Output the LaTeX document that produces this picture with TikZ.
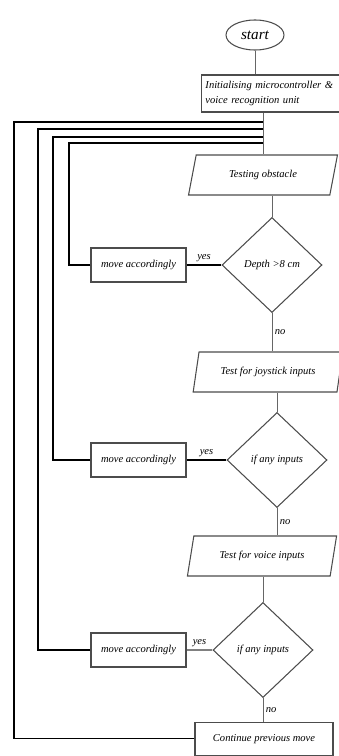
\documentclass[tikz,border=0pt]{standalone}
\usepackage{fontspec}
\setmainfont{Liberation Serif}
\usetikzlibrary{shapes.geometric}

\tikzset{
    txt/.style={font=\itshape\fontsize{9}{13}\selectfont},
    startnode/.style={ellipse, draw=black!70, line width=0.9pt, minimum width=1.74cm, minimum height=0.9cm, font=\itshape\fontsize{13}{15}\selectfont},
    initbox/.style={rectangle, draw=black!70, line width=0.9pt, minimum width=4.05cm, minimum height=1.11cm, align=left, text width=3.9cm, txt},
    iobox/.style={trapezium, trapezium left angle=76, trapezium right angle=104, trapezium stretches=true, draw=black!70, line width=0.9pt, minimum width=4.5cm, minimum height=1.2cm, txt},
    decision/.style={diamond, draw=black!70, line width=0.9pt, minimum width=3cm, minimum height=2.85cm, inner sep=0pt, txt},
    movebox/.style={rectangle, draw=black!70, line width=0.9pt, minimum width=2.85cm, minimum height=1.02cm, txt},
    flow/.style={draw=black!60, line width=0.8pt},
    back/.style={draw=black, line width=1.6pt},
    lbl/.style={txt, inner sep=2pt}
}

\begin{document}
\begin{tikzpicture}[x=0.03cm, y=-0.03cm]
    \useasboundingbox (0,0) rectangle (339,756);

    % Draw the nodes
    \node[startnode] (start) at (255,35) {start};
    \node[initbox] (init) at (270.5,93.5) {Initialising microcontroller \&\\ voice recognition unit};
    \node[iobox] (obstacle) at (263,175) {Testing obstacle};
    \node[decision] (depth) at (272,265) {Depth >8 cm};
    \node[movebox] (move1) at (138.5,265) {move accordingly};
    \node[iobox] (joystick) at (268,372) {Test for joystick inputs};
    \node[decision] (joyin) at (277,460) {if any inputs};
    \node[movebox] (move2) at (138.5,460) {move accordingly};
    \node[iobox] (voice) at (262,556) {Test for voice inputs};
    \node[decision] (voicein) at (263,650) {if any inputs};
    \node[movebox] (move3) at (138.5,650) {move accordingly};
    \node[rectangle, draw=black!70, line width=0.9pt, minimum width=4.14cm, minimum height=1cm, txt] (cont) at (264,738.7) {Continue previous move};

    % Draw the main flow
    \draw[flow] (start.south) -- (start.south |- init.north);
    \draw[flow] (obstacle.north |- init.south) -- (obstacle.north);
    \draw[flow] (depth.north |- obstacle.south) -- (depth.north);
    \draw[flow] (depth.south) -- (depth.south |- joystick.north) node[lbl, midway, right] {no};
    \draw[flow] (joyin.north |- joystick.south) -- (joyin.north);
    \draw[flow] (joyin.south) -- (joyin.south |- voice.north) node[lbl, midway, right] {no};
    \draw[flow] (voicein.north |- voice.south) -- (voicein.north);
    \draw[flow] (voicein.south) -- (voicein.south |- cont.north) node[lbl, midway, right] {no};

    % Draw the yes branches
    \draw[back] (depth.west) -- (move1.east) node[lbl, midway, above] {yes};
    \draw[back, line width=1.2pt] (joyin.west) -- (move2.east) node[lbl, midway, above] {yes};
    \draw[back, draw=black!50] (voicein.west) -- (move3.east) node[lbl, midway, above] {yes};

    % Draw the return lines
    \coordinate (fb1) at (69,143);
    \coordinate (fb2) at (53,137);
    \coordinate (fb3) at (38,129);
    \coordinate (fb4) at (14,122);
    \draw[back] (move1.west) -| (fb1) -- (fb1 -| obstacle.north);
    \draw[back] (move2.west) -| (fb2) -- (fb2 -| obstacle.north);
    \draw[back] (move3.west) -| (fb3) -- (fb3 -| obstacle.north);
    \draw[back, line width=1.2pt] (cont.west) -| (fb4) -- (fb4 -| obstacle.north);
\end{tikzpicture}
\end{document}
